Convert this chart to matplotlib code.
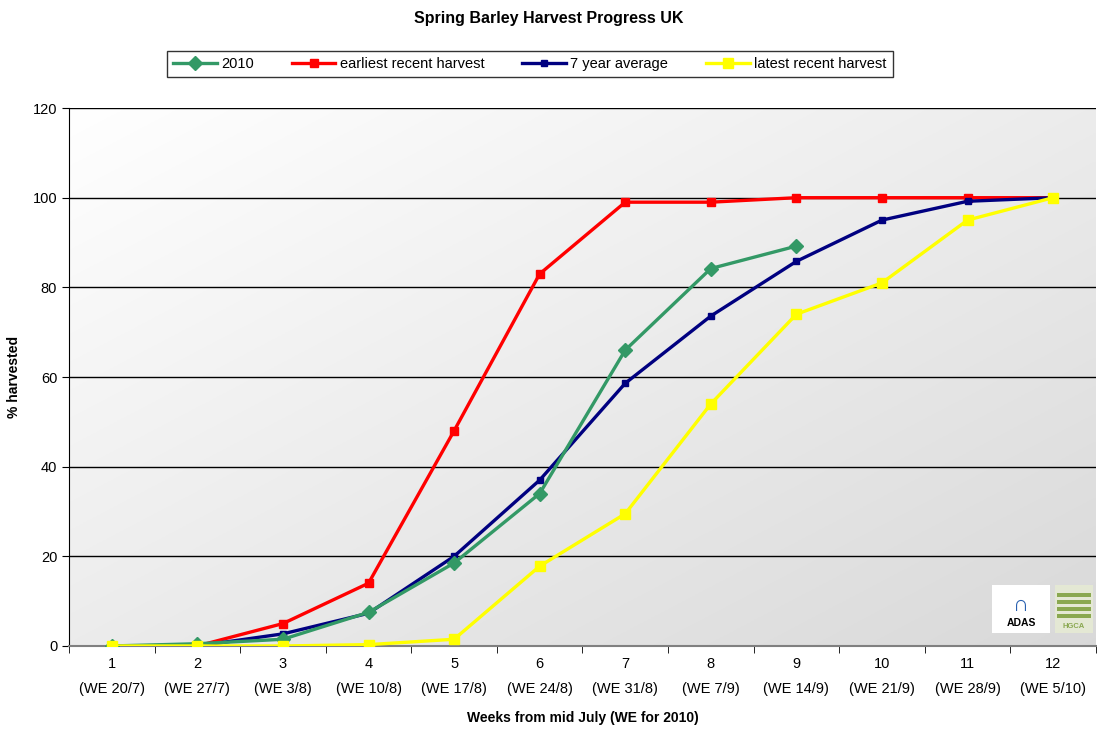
import numpy as np
import matplotlib
matplotlib.use("Agg")
import matplotlib.pyplot as plt
from matplotlib.patches import Rectangle

plt.rcParams['font.family'] = ['Liberation Sans', 'DejaVu Sans']

# ----------------------------
# data
# ----------------------------
weeks = [1, 2, 3, 4, 5, 6, 7, 8, 9, 10, 11, 12]
week_ends = ["20/7", "27/7", "3/8", "10/8", "17/8", "24/8", "31/8",
             "7/9", "14/9", "21/9", "28/9", "5/10"]
tick_labels = [f"{w}\n(WE {d})" for w, d in zip(weeks, week_ends)]

y2010 = [0, 0.5, 1.5, 7.5, 18.5, 34, 66, 84.2, 89.2]
earliest = [0, 0, 5, 14, 48, 83, 99, 99, 100, 100, 100, 100]
avg7 = [0, 0, 2.7, 7.3, 20, 37, 58.6, 73.6, 85.8, 95, 99.2, 100]
latest = [0, 0, 0, 0.3, 1.5, 17.8, 29.5, 54, 74, 81, 95, 100]

# ----------------------------
# figure
# ----------------------------
fig = plt.figure(figsize=(10.97, 7.30), dpi=100)
ax = fig.add_axes([0.0629, 0.1151, 0.9361, 0.7369])

# diagonal gradient: white top-left -> light grey bottom-right
gx, gy = np.meshgrid(np.linspace(0, 1, 300), np.linspace(0, 1, 300))
shade = 1.0 - 0.15 * (gx + gy) / 2
rgb = np.dstack([shade, shade, shade])
ax.imshow(rgb, extent=[0, 1, 0, 1], transform=ax.transAxes,
          aspect="auto", zorder=0, origin="upper")

for v in range(20, 121, 20):
    ax.axhline(v, color="black", lw=1.0, zorder=1)

x2010 = weeks[:len(y2010)]
ax.plot(x2010, y2010, color="#339966", lw=2.4, marker="D", ms=7,
        label="2010", zorder=5)
ax.plot(weeks, earliest, color="#ff0000", lw=2.4, marker="s", ms=5.5,
        label="earliest recent harvest", zorder=4)
ax.plot(weeks, avg7, color="#000080", lw=2.4, marker="s", ms=5,
        label="7 year average", zorder=4)
ax.plot(weeks, latest, color="#ffff00", lw=2.4, marker="s", ms=7,
        label="latest recent harvest", zorder=6)

ax.set_xlim(0.5, 12.5)
ax.set_ylim(0, 120)
ax.set_yticks(range(0, 121, 20))
ax.set_xticks(weeks)
ax.set_xticklabels(tick_labels, fontsize=10.5, linespacing=2.0)
ax.set_xticks(np.arange(0.5, 12.6, 1), minor=True)
ax.tick_params(axis="x", which="major", length=0, pad=8)
ax.tick_params(axis="x", which="minor", length=5, direction="out")
ax.tick_params(axis="y", length=5, labelsize=10.5)

for s in ["top", "right"]:
    ax.spines[s].set_visible(False)
ax.spines["left"].set_color("black")
ax.spines["bottom"].set_color("#808080")
ax.spines["bottom"].set_linewidth(1.5)

ax.set_ylabel("% harvested", fontsize=10, fontweight="bold", labelpad=8)
ax.set_xlabel("Weeks from mid July (WE for 2010)", fontsize=10,
              fontweight="bold", labelpad=11)
fig.suptitle("Spring Barley Harvest Progress UK", fontsize=11.5,
             fontweight="bold", y=0.985)

leg = fig.legend(loc="center", bbox_to_anchor=(0.483, 0.912), ncol=4,
                 fontsize=10.5, frameon=True, fancybox=False,
                 edgecolor="black", handlelength=3.0, handletextpad=0.3,
                 columnspacing=2.6, borderpad=0.4)
leg.get_frame().set_linewidth(1.0)

# logos (approximated as boxes with text)
ax.add_patch(Rectangle((0.8987, 0.024), 0.0565, 0.089, transform=ax.transAxes,
                       fc="white", ec="none", zorder=7))
ax.text(0.927, 0.075, "\u2229", transform=ax.transAxes, fontsize=16,
        color="#2860b0", ha="center", va="center", zorder=8)
ax.text(0.927, 0.042, "ADAS", transform=ax.transAxes, fontsize=7.5,
        fontweight="bold", ha="center", va="center", zorder=8)
ax.add_patch(Rectangle((0.960, 0.024), 0.037, 0.089, transform=ax.transAxes,
                       fc="#e4e8d4", ec="none", zorder=7))
for k in range(4):
    ax.add_patch(Rectangle((0.962, 0.052 + k * 0.013), 0.033, 0.008,
                           transform=ax.transAxes, fc="#8aa850", ec="none",
                           zorder=8))
ax.text(0.9785, 0.036, "HGCA", transform=ax.transAxes, fontsize=5.5,
        color="#8aa850", fontweight="bold", ha="center", va="center",
        zorder=8)

fig.savefig("out.png", dpi=100)
